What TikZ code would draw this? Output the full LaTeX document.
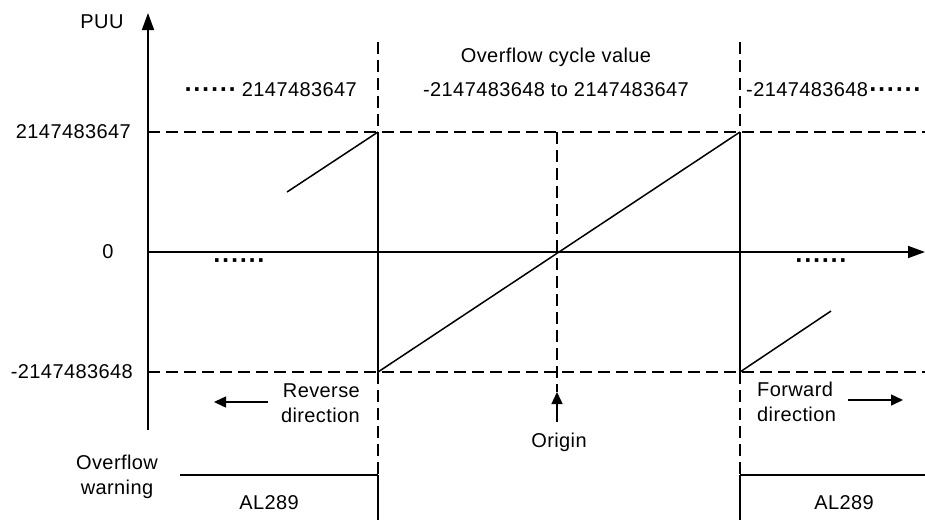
\documentclass[tikz,border=0pt]{standalone}
\usepackage{fontspec}
\setmainfont[LetterSpace=2]{Liberation Sans}
\newfontfamily\dotfont[LetterSpace=6]{DejaVu Sans Bold}
\usetikzlibrary{arrows.meta}
\newcommand{\sixdots}{{\dotfont\fontsize{20}{24}\selectfont ······}}
\begin{document}
\begin{tikzpicture}[x=1pt,y=-1pt,
  every node/.style={font=\fontsize{20}{25}\selectfont, inner sep=0pt},
  solidln/.style={line width=1.5pt},
  dashln/.style={line width=1.4pt, dash pattern=on 12pt off 6pt},
  axisarrow/.style={line width=1.7pt, -{Triangle[width=12pt,length=17pt]}},
  dirarrow/.style={line width=1.5pt, -{Triangle[width=11pt,length=12pt]}}]
\useasboundingbox (0,0) rectangle (925,520);
% key coordinates
\coordinate (yb) at (148,430);
\coordinate (yt) at (148,13);
\coordinate (x0) at (148,252);
\coordinate (xe) at (925,252);
\coordinate (tl) at (148,132);
\coordinate (tr) at (925,132);
\coordinate (bl) at (148,372);
\coordinate (br) at (925,372);
\coordinate (Ltop) at (378,42);
\coordinate (Lhi) at (378,132);
\coordinate (Llo) at (378,372);
\coordinate (Lw) at (378,475);
\coordinate (Lbot) at (378,520);
\coordinate (Rtop) at (740,42);
\coordinate (Rhi) at (740,132);
\coordinate (Rlo) at (740,372);
\coordinate (Rw) at (740,475);
\coordinate (Rbot) at (740,520);
\coordinate (Mhi) at (557,132);
\coordinate (Mtip) at (557,392);
\coordinate (Mtail) at (557,422);
\coordinate (segLa) at (287,192);
\coordinate (segRb) at (831,311);
\coordinate (wL) at (180,475);
\coordinate (wR) at (925,475);
\coordinate (revA) at (268,402);
\coordinate (revB) at (214,402);
\coordinate (fwdA) at (848,400);
\coordinate (fwdB) at (903,400);
% axes
\draw[axisarrow] (yb) -- (yt);
\draw[axisarrow] (x0) -- (xe);
% dashed levels
\draw[dashln] (tl) -- (tr);
\draw[dashln] (bl) -- (br);
% left boundary
\draw[dashln] (Ltop) -- (Lhi);
\draw[solidln] (Lhi) -- (Llo);
\draw[dashln] (Llo) -- (Lw);
\draw[solidln] (Lw) -- (Lbot);
% right boundary
\draw[dashln] (Rtop) -- (Rhi);
\draw[solidln] (Rhi) -- (Rlo);
\draw[dashln] (Rlo) -- (Rw);
\draw[solidln] (Rw) -- (Rbot);
% middle
\draw[dashln] (Mhi) -- (Mtip);
\draw[dirarrow] (Mtail) -- (Mtip);
% ramps
\draw[solidln] (segLa) -- (Lhi);
\draw[solidln] (Llo) -- (Rhi);
\draw[solidln] (Rlo) -- (segRb);
% warning lines
\draw[solidln] (wL) -- (Lw);
\draw[solidln] (Rw) -- (wR);
% direction arrows
\draw[dirarrow] (revA) -- (revB);
\draw[dirarrow] (fwdA) -- (fwdB);
% labels
\node (puu) at (102,22) {PUU};
\node[anchor=east] (vmax) at (131,132) {2147483647};
\node (zero) at (108,252) {0};
\node[anchor=east] (vmin) at (133,372) {-2147483648};
\node[anchor=east] (topL) at (357,90) {\sixdots\hspace{6pt}2147483647};
\node (ocv) at (556,57) {Overflow cycle value};
\node (range) at (556,90) {-2147483648 to 2147483647};
\node[anchor=west] (topR) at (746,90) {-2147483648\hspace{1pt}\sixdots};
\node (dotsL) at (239,263) {\sixdots};
\node (dotsR) at (821,263) {\sixdots};
\node[anchor=east, align=right] (rev) at (360,403) {Reverse\\direction};
\node[anchor=west, align=left] (fwd) at (757,402) {Forward\\direction};
\node (origin) at (559,442) {Origin};
\node[align=center] (ow) at (117,477) {Overflow\\warning};
\node (alL) at (269,503) {AL289};
\node (alR) at (844,503) {AL289};
\end{tikzpicture}
\end{document}
